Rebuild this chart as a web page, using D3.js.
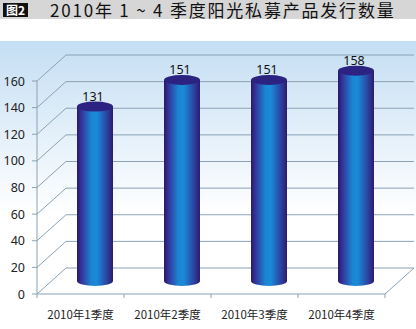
<!DOCTYPE html>
<html>
<head>
<meta charset="utf-8">
<script src="https://cdn.jsdelivr.net/npm/d3@7"></script>
<style>
  body { margin: 0; background: #fff; }
  svg { display: block; }
</style>
</head>
<body>
<script>
var w = 416;
var h = 329;

var categories = ["2010年1季度", "2010年2季度", "2010年3季度", "2010年4季度"];
var values = [131, 151, 151, 158];
var yTicks = [0, 20, 40, 60, 80, 100, 120, 140, 160];
var title = "2010年 1 ~ 4 季度阳光私募产品发行数量";

// 3d depth offset
var dx = 29;
var dy = -26;

var svg = d3.select("body").append("svg").attr("width", w).attr("height", h);
var defs = svg.append("defs");

var bg = defs.append("linearGradient").attr("id", "bg")
  .attr("x1", 0).attr("y1", 0).attr("x2", 0).attr("y2", 1);
bg.append("stop").attr("offset", "0%").attr("stop-color", "#c4def3");
bg.append("stop").attr("offset", "60%").attr("stop-color", "#ffffff");
bg.append("stop").attr("offset", "100%").attr("stop-color", "#ffffff");

var cyl = defs.append("linearGradient").attr("id", "cyl")
  .attr("x1", 0).attr("y1", 0).attr("x2", 1).attr("y2", 0);
[["0%", "#2a1868"], ["12%", "#34329a"], ["40%", "#1a86d2"], ["55%", "#1a8ad8"],
 ["80%", "#2a4aa8"], ["100%", "#2e1a6e"]].forEach(function (s) {
  cyl.append("stop").attr("offset", s[0]).attr("stop-color", s[1]);
});

// title bar
svg.append("rect").attr("x", 0).attr("y", 0).attr("width", w).attr("height", 19).attr("fill", "#d6d6d6");
svg.append("rect").attr("x", 3).attr("y", 3).attr("width", 25).attr("height", 14).attr("fill", "#111");
svg.append("text").attr("x", 15.5).attr("y", 15).attr("text-anchor", "middle")
  .attr("font-family", "Noto Sans CJK SC").attr("font-size", 12).attr("font-weight", "bold")
  .attr("fill", "#fff").text("图2");
svg.append("text").attr("x", 50).attr("y", 16.5)
  .attr("font-family", "Noto Sans CJK SC").attr("font-size", 17)
  .attr("letter-spacing", 1.8)
  .attr("fill", "#111").text(title);

// chart background
svg.append("rect").attr("x", 0).attr("y", 41).attr("width", w).attr("height", h - 41).attr("fill", "url(#bg)");

var y = d3.scaleLinear().domain([0, 160]).range([294, 81]);
var x = d3.scaleBand().domain(categories).range([37, 385]).padding(0);

var gridColor = "#8aa2b4";

// back wall grid lines and left wall diagonals
svg.selectAll("line.grid").data(yTicks).enter().append("line")
  .attr("x1", 37 + dx).attr("x2", 385 + dx)
  .attr("y1", function (d) { return y(d) + dy; })
  .attr("y2", function (d) { return y(d) + dy; })
  .attr("stroke", gridColor).attr("stroke-width", 1);
svg.selectAll("line.diag").data(yTicks).enter().append("line")
  .attr("x1", 37).attr("x2", 37 + dx)
  .attr("y1", function (d) { return y(d); })
  .attr("y2", function (d) { return y(d) + dy; })
  .attr("stroke", gridColor).attr("stroke-width", 1);

// floor
svg.append("line").attr("x1", 385).attr("y1", y(0)).attr("x2", 385 + dx).attr("y2", y(0) + dy)
  .attr("stroke", gridColor);
svg.append("line").attr("x1", 37).attr("y1", y(0)).attr("x2", 385).attr("y2", y(0))
  .attr("stroke", gridColor);
svg.append("line").attr("x1", 37).attr("y1", y(0)).attr("x2", 37).attr("y2", y(160))
  .attr("stroke", gridColor);

// y axis ticks + labels
svg.selectAll("line.ytick").data(yTicks).enter().append("line")
  .attr("x1", 32).attr("x2", 37)
  .attr("y1", function (d) { return y(d); })
  .attr("y2", function (d) { return y(d); })
  .attr("stroke", gridColor);
svg.selectAll("text.ylab").data(yTicks).enter().append("text")
  .attr("x", 25)
  .attr("y", function (d) { return y(d) + 4.5; })
  .attr("text-anchor", "end")
  .attr("font-family", "Noto Sans").attr("font-size", 12.5).attr("fill", "#222")
  .text(function (d) { return d; });

// x ticks
svg.selectAll("line.xtick").data(categories.concat(["end"])).enter().append("line")
  .attr("x1", function (d, i) { return 37 + i * x.bandwidth(); })
  .attr("x2", function (d, i) { return 37 + i * x.bandwidth(); })
  .attr("y1", y(0)).attr("y2", y(0) + 4)
  .attr("stroke", gridColor);

// cylinders
var rx = 18;
var ry = 5;
var bars = svg.selectAll("g.bar").data(values).enter().append("g");

function cx(i) { return x(categories[i]) + x.bandwidth() / 2 + dx / 2; }

bars.append("path")
  .attr("d", function (d, i) {
    var c = cx(i);
    var top = y(d) + dy / 2;
    var bot = y(0) + dy / 2;
    return "M" + (c - rx) + "," + top +
      "L" + (c - rx) + "," + bot +
      "A" + rx + "," + ry + " 0 0 0 " + (c + rx) + "," + bot +
      "L" + (c + rx) + "," + top + "Z";
  })
  .attr("fill", "url(#cyl)");

bars.append("ellipse")
  .attr("cx", function (d, i) { return cx(i); })
  .attr("cy", function (d) { return y(d) + dy / 2; })
  .attr("rx", rx).attr("ry", ry)
  .attr("fill", "#2c2282");

bars.append("text")
  .attr("x", function (d, i) { return cx(i) - 2; })
  .attr("y", function (d) { return y(d) + dy / 2 - 6; })
  .attr("text-anchor", "middle")
  .attr("font-family", "Noto Sans").attr("font-size", 12.5).attr("fill", "#111")
  .text(function (d) { return d; });

// category labels
svg.selectAll("text.xlab").data(categories).enter().append("text")
  .attr("x", function (d) { return x(d) + x.bandwidth() / 2; })
  .attr("y", 319)
  .attr("text-anchor", "middle")
  .attr("font-family", "Noto Sans CJK SC").attr("font-size", 11.5).attr("fill", "#222")
  .text(function (d) { return d; });
</script>
</body>
</html>
